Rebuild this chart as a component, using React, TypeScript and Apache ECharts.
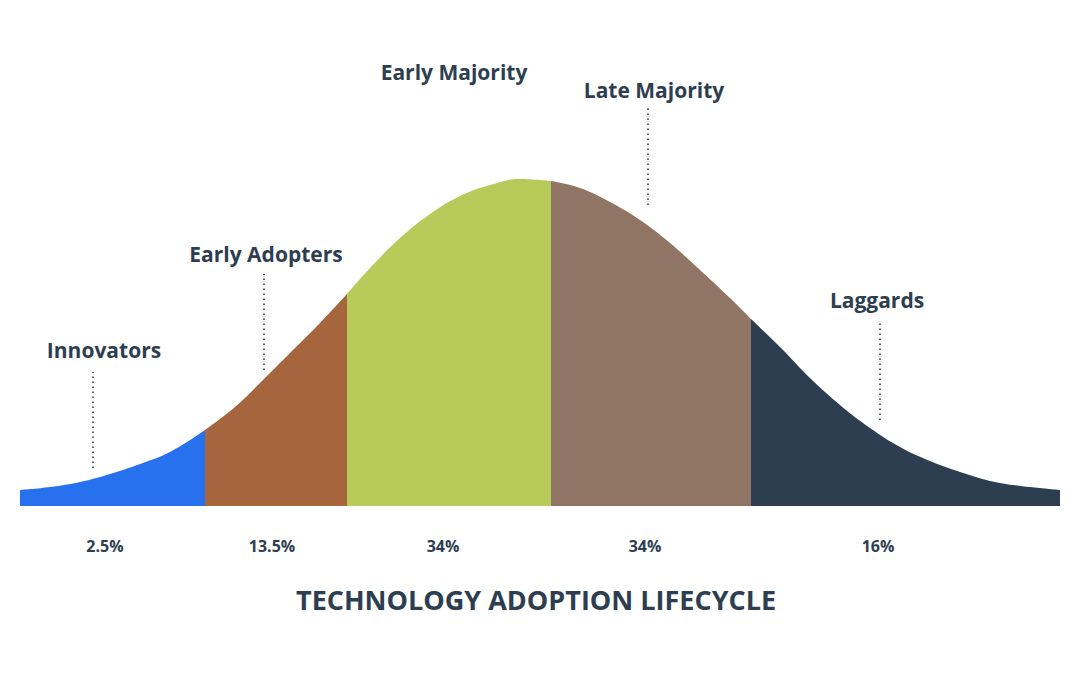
import React, { useEffect, useRef } from "react";
import * as echarts from "echarts";

// Curve position (horizontal adoption position) and curve height for each segment
const innovatorsX = [20, 50, 80, 110, 140, 170, 205];
const innovatorsH = [16, 19, 24, 32, 42, 54, 76];
const earlyAdoptersX = [205, 235, 264, 290, 320, 347];
const earlyAdoptersH = [76, 99, 127, 153, 183, 212];
const earlyMajorityX = [347, 370, 400, 430, 460, 490, 520, 551];
const earlyMajorityH = [212, 238, 268, 292, 310, 321, 327, 325];
const lateMajorityX = [551, 580, 610, 640, 670, 700, 730, 751];
const lateMajorityH = [325, 318, 304, 286, 263, 236, 208, 187];
const laggardsX = [751, 780, 810, 840, 870, 900, 930, 960, 995, 1030, 1060];
const laggardsH = [187, 159, 128, 101, 78, 59, 45, 34, 24, 19, 16];

const groupNames = ["Innovators", "Early Adopters", "Early Majority", "Late Majority", "Laggards"];
const groupShares = ["2.5%", "13.5%", "34%", "34%", "16%"];
// pointer (dotted line) positions and extents
const pointerX = [93, 264, 445, 648, 880];
const pointerBottom = [38, 136, 318, 301, 86];
const pointerTop = [134, 232, 414, 398, 184];
// label anchor positions
const labelX = [104, 266, 454, 654, 877];
const labelY = [156, 252, 434, 416, 206];
const shareX = [105, 272, 443, 645, 878];

const colors = ["#2871EE", "#A6653D", "#B8CB5A", "#917564", "#2D3E50"];
const textColor = "#2D3E50";
const title = "TECHNOLOGY ADOPTION LIFECYCLE";
const font = "'Open Sans', sans-serif";

const segX = [innovatorsX, earlyAdoptersX, earlyMajorityX, lateMajorityX, laggardsX];
const segH = [innovatorsH, earlyAdoptersH, earlyMajorityH, lateMajorityH, laggardsH];

export default function App() {
  const ref = useRef<HTMLDivElement>(null);
  useEffect(() => {
    if (!ref.current) return;
    const chart = echarts.init(ref.current, undefined, { renderer: "svg" });
    const areaSeries = segX.map((xs, i) => ({
      type: "line",
      name: groupNames[i],
      data: xs.map((x, j) => [x, segH[i][j]]),
      smooth: 0.4,
      showSymbol: false,
      symbol: "none",
      lineStyle: { width: 0 },
      areaStyle: { color: colors[i], opacity: 1 },
      itemStyle: { color: colors[i] },
      z: 2,
    }));
    const pointerSeries = {
      type: "line",
      name: "pointers",
      data: [],
      silent: true,
      markLine: {
        symbol: "none",
        silent: true,
        label: { show: false },
        lineStyle: { type: [1.5, 3.5], color: textColor, width: 1.6, opacity: 1 },
        data: pointerX.map((x, i) => [
          { coord: [x, pointerBottom[i]] },
          { coord: [x, pointerTop[i]] },
        ]),
      },
    };
    const nameSeries = {
      type: "scatter",
      name: "names",
      symbolSize: 0,
      silent: true,
      clip: false,
      itemStyle: { opacity: 1 },
      data: labelX.map((x, i) => ({ value: [x, labelY[i]], name: groupNames[i] })),
      label: {
        show: true,
        position: "inside",
        formatter: (p: any) => p.name,
        color: textColor,
        opacity: 1,
        fontSize: 21,
        fontWeight: "bold",
        fontFamily: font,
      },
      z: 5,
    };
    const shareSeries = {
      type: "scatter",
      name: "shares",
      symbolSize: 0,
      silent: true,
      clip: false,
      itemStyle: { opacity: 1 },
      data: shareX.map((x, i) => ({ value: [x, 0], name: groupShares[i] })),
      label: {
        show: true,
        position: "inside",
        offset: [0, 40],
        formatter: (p: any) => p.name,
        color: textColor,
        opacity: 1,
        fontSize: 16,
        fontWeight: "bold",
        fontFamily: font,
      },
      z: 5,
    };
    chart.setOption({
      animation: false,
      backgroundColor: "#ffffff",
      title: {
        text: title,
        left: 291,
        top: 581,
        textStyle: {
          color: textColor,
          fontSize: 27,
          fontWeight: "bold",
          fontFamily: font,
        },
      },
      grid: { left: 20, right: 20, top: 106, bottom: 169 },
      xAxis: {
        type: "value",
        min: 20,
        max: 1060,
        show: false,
      },
      yAxis: {
        type: "value",
        min: 0,
        max: 400,
        show: false,
      },
      series: [...areaSeries, pointerSeries, nameSeries, shareSeries],
    });
    return () => chart.dispose();
  }, []);
  return (
    <div
      ref={ref}
      style={{ position: "fixed", left: 0, top: 0, width: 1080, height: 675, background: "#fff" }}
    />
  );
}
